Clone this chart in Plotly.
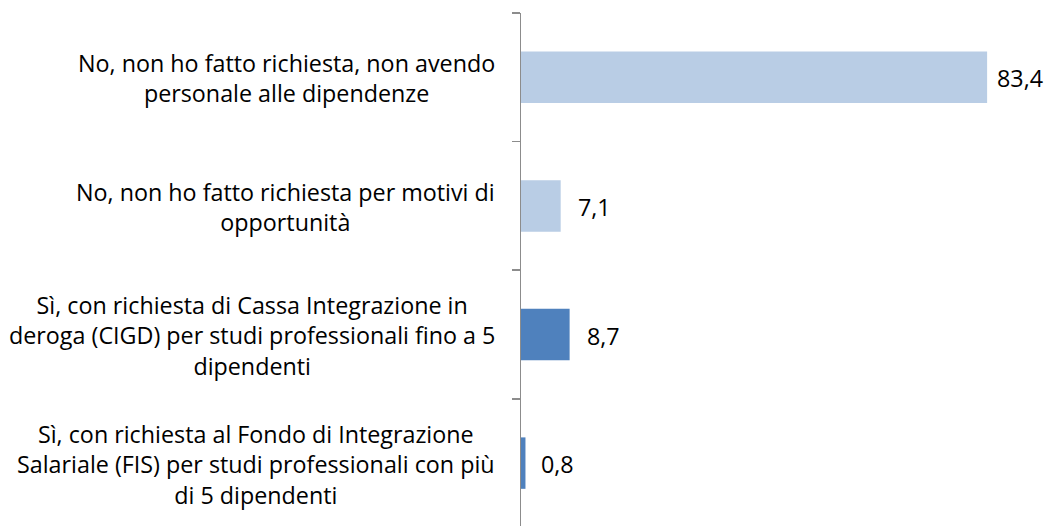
import plotly.graph_objects as go

categories = [
    "No, non ho fatto richiesta, non avendo<br>personale alle dipendenze",
    "No, non ho fatto richiesta per motivi di<br>opportunità",
    "Sì, con richiesta di Cassa Integrazione in<br>deroga (CIGD) per studi professionali fino a 5<br>dipendenti",
    "Sì, con richiesta al Fondo di Integrazione<br>Salariale (FIS) per studi professionali con più<br>di 5 dipendenti",
]
values = [83.4, 7.1, 8.7, 0.8]
value_labels = ["83,4", "7,1", "8,7", "0,8"]

LIGHT = "#B9CDE5"
DARK = "#4F81BD"
bar_colors = [LIGHT, LIGHT, DARK, DARK]
label_gaps = [10, 17, 17, 16]

FONT = "Open Sans"
FSIZE = 23.3
AXIS_GREY = "#8C8C8C"

positions = list(range(len(categories)))

fig = go.Figure()
fig.add_trace(go.Bar(
    x=values,
    y=positions,
    orientation="h",
    width=0.4,
    marker=dict(color=bar_colors, line=dict(width=0)),
    hoverinfo="skip",
    cliponaxis=False,
))

annotations = []
for p, cat in zip(positions, categories):
    annotations.append(dict(
        x=0, xref="paper", y=p, yref="y",
        text=cat, showarrow=False,
        xanchor="right", yanchor="middle", align="center",
        xshift=-24, yshift=-1,
        font=dict(family=FONT, size=FSIZE, color="#000000"),
    ))
for p, v, lab, g in zip(positions, values, value_labels, label_gaps):
    annotations.append(dict(
        x=v, xref="x", y=p, yref="y",
        text=lab, showarrow=False,
        xanchor="left", yanchor="middle",
        xshift=g - 2, yshift=-1,
        font=dict(family=FONT, size=FSIZE, color="#000000"),
    ))

fig.update_layout(
    width=1049, height=526,
    margin=dict(l=521, r=25, t=13, b=0, pad=0),
    paper_bgcolor="white", plot_bgcolor="white",
    showlegend=False,
    annotations=annotations,
    xaxis=dict(range=[0, 90], visible=False, showgrid=False, zeroline=False),
    yaxis=dict(
        range=[3.489, -0.5],
        showgrid=False, zeroline=False,
        showline=True, linecolor=AXIS_GREY, linewidth=1.5,
        ticks="outside", ticklen=8, tickwidth=1.5, tickcolor=AXIS_GREY,
        tickvals=[-0.5, 0.5, 1.5, 2.5, 3.5],
        showticklabels=False,
    ),
)

fig.write_html(
    "out.html",
    config={"displayModeBar": False, "staticPlot": True},
    post_script="document.body.style.margin='0';document.body.style.overflow='hidden';",
)
